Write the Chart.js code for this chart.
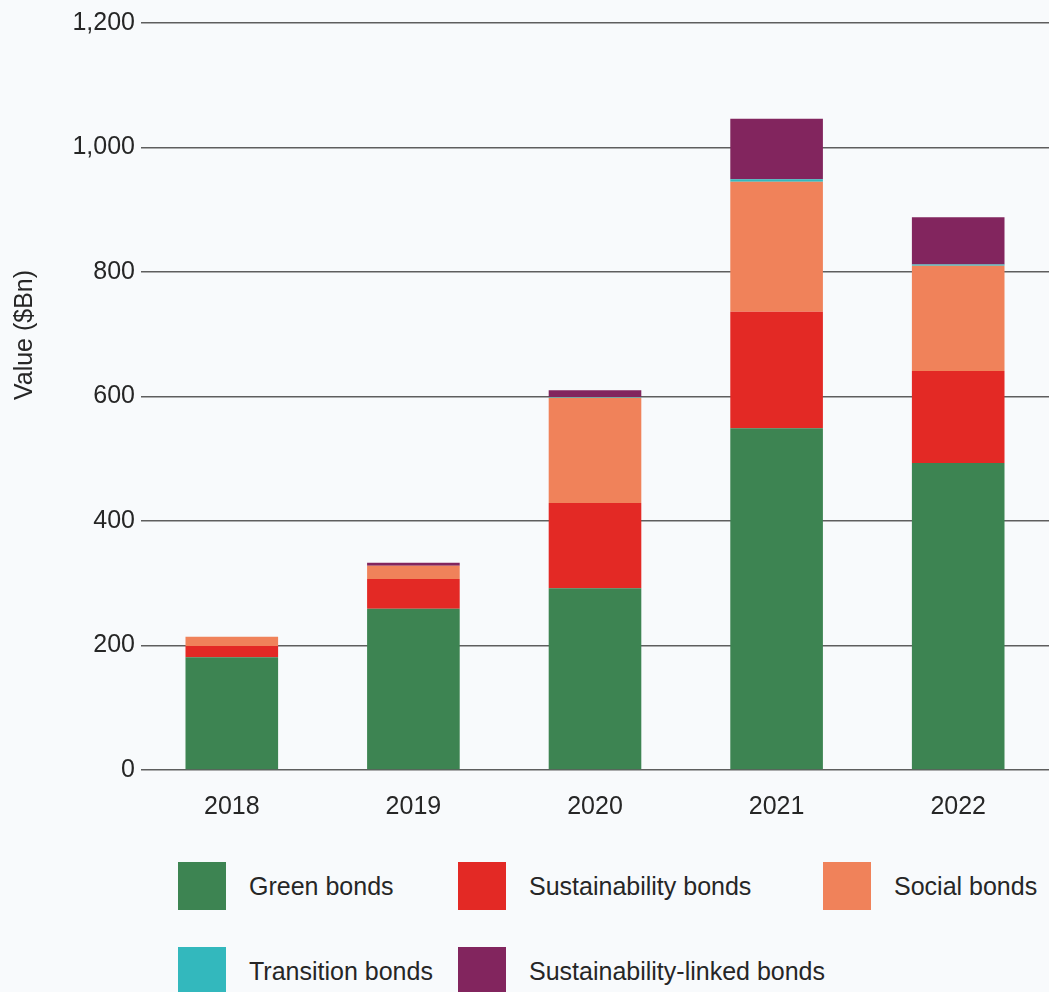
<!DOCTYPE html>
<html>
<head>
<meta charset="utf-8">
<script src="https://cdn.jsdelivr.net/npm/chart.js@4/dist/chart.umd.min.js"></script>
<style>
  body { margin: 0; background: #f8fafc; font-family: "Liberation Sans", Arial, sans-serif; }
  #wrap { position: relative; width: 1049px; height: 992px; overflow: hidden; }
  #chartBox { position: absolute; left: 0; top: 0; width: 1049px; height: 840px; }
  #legend { position: absolute; left: 0; top: 862px; width: 1049px; }
  .item { position: absolute; display: flex; align-items: center; font-size: 25px; color: #262626; white-space: nowrap; }
  .item span.box { display: inline-block; width: 48px; height: 48px; margin-right: 23px; }
</style>
</head>
<body>
<div id="wrap">
  <div id="chartBox"><canvas id="chart"></canvas></div>
  <div id="legend"></div>
</div>
<script>
// Datos (valores en $Bn)
const years = ['2018', '2019', '2020', '2021', '2022'];
const greenBonds = [181, 259, 292, 549, 493];
const sustainabilityBonds = [18, 48, 137, 187, 148];
const socialBonds = [15, 21, 169, 209, 169];
const transitionBonds = [0, 0, 1, 4, 2];
const sustainabilityLinkedBonds = [0, 5, 11, 97, 76];
const yTicks = [0, 200, 400, 600, 800, 1000, 1200];

const series = [
    { label: 'Green bonds', data: greenBonds, color: '#3d8452' },
    { label: 'Sustainability bonds', data: sustainabilityBonds, color: '#e32925' },
    { label: 'Social bonds', data: socialBonds, color: '#f0825a' },
    { label: 'Transition bonds', data: transitionBonds, color: '#33b8bd' },
    { label: 'Sustainability-linked bonds', data: sustainabilityLinkedBonds, color: '#82255e' },
];

const textColor = '#262626';

// Posiciones de la leyenda (fila, columna) como en la referencia
const legendSlots = [
    { left: 178, top: 0 }, { left: 458, top: 0 }, { left: 823, top: 0 },
    { left: 178, top: 85 }, { left: 458, top: 85 },
];

const legend = document.getElementById('legend');
series.forEach((s, i) => {
    const item = document.createElement('div');
    item.className = 'item';
    item.style.left = legendSlots[i].left + 'px';
    item.style.top = legendSlots[i].top + 'px';
    const box = document.createElement('span');
    box.className = 'box';
    box.style.background = s.color;
    item.appendChild(box);
    item.appendChild(document.createTextNode(s.label));
    legend.appendChild(item);
});

// Título del eje Y dibujado a mano para colocarlo como en el original
const yTitlePlugin = {
    id: 'yTitle',
    afterDraw(chart) {
        const ctx = chart.ctx;
        ctx.save();
        ctx.translate(25, 335);
        ctx.rotate(-Math.PI / 2);
        ctx.font = '25px "Liberation Sans", Arial, sans-serif';
        ctx.fillStyle = textColor;
        ctx.textAlign = 'center';
        ctx.textBaseline = 'middle';
        ctx.fillText('Value ($Bn)', 0, 0);
        ctx.restore();
    }
};

new Chart(document.getElementById('chart').getContext('2d'), {
    type: 'bar',
    data: {
        labels: years,
        datasets: series.map((s) => ({
            label: s.label,
            data: s.data,
            backgroundColor: s.color,
            borderWidth: 0,
            categoryPercentage: 1,
            barPercentage: 0.51,
        })),
    },
    options: {
        responsive: true,
        maintainAspectRatio: false,
        animation: false,
        layout: { padding: { top: 23, right: 0, left: 0, bottom: 0 } },
        plugins: {
            legend: { display: false },
            tooltip: { enabled: false },
        },
        scales: {
            x: {
                stacked: true,
                grid: { display: false },
                border: { display: false },
                ticks: {
                    color: textColor,
                    font: { family: '"Liberation Sans", Arial, sans-serif', size: 25 },
                    padding: 14,
                },
                afterFit: (scale) => { scale.height = 70; },
            },
            y: {
                stacked: true,
                min: 0,
                max: 1200,
                afterBuildTicks: (scale) => { scale.ticks = yTicks.map((v) => ({ value: v })); },
                grid: { color: '#5e5e5e', lineWidth: 1.5, drawTicks: false },
                border: { display: false },
                ticks: {
                    color: textColor,
                    font: { family: '"Liberation Sans", Arial, sans-serif', size: 25 },
                    padding: 6,
                    callback: (v) => v.toLocaleString('en-US'),
                },
                afterFit: (scale) => { scale.width = 141; },
            },
        },
    },
    plugins: [yTitlePlugin],
});
</script>
</body>
</html>
